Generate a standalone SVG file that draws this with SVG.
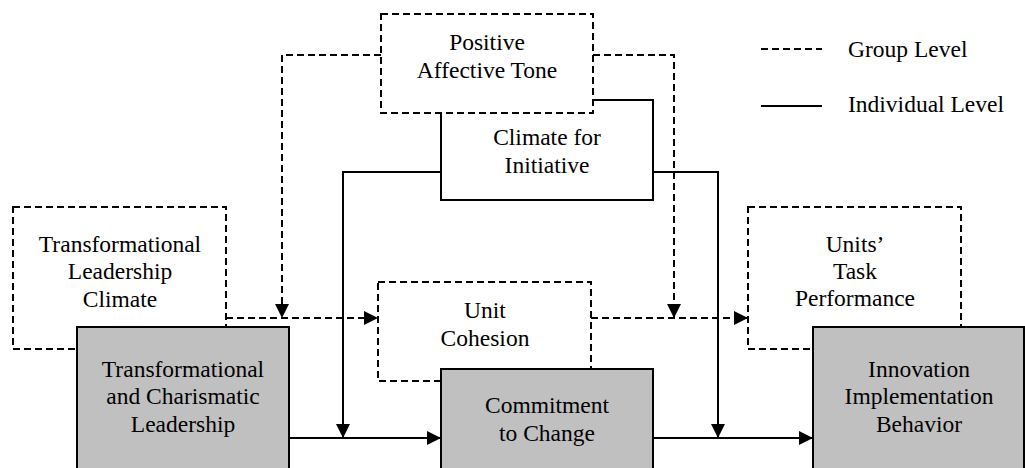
<svg xmlns="http://www.w3.org/2000/svg" width="1025" height="468" viewBox="0 0 1025 468">
  <style>
    text { font-family: 'Liberation Serif', serif; font-size: 23.5px; fill: #000; }
    .lbl { text-anchor: middle; }
    .group { fill: #fff; stroke: #000; stroke-width: 2; stroke-dasharray: 7 4; }
    .indiv { fill: #fff; stroke: #000; stroke-width: 2; }
    .core { fill: #c0c0c0; stroke: #000; stroke-width: 2; }
    .dash { fill: none; stroke: #000; stroke-width: 2; stroke-dasharray: 7 4; }
    .solid { fill: none; stroke: #000; stroke-width: 2; }
  </style>
  <defs>
    <marker id="arrow" markerUnits="userSpaceOnUse" markerWidth="15" markerHeight="15" refX="14" refY="7" orient="auto">
      <path d="M0,0 L14,7 L0,14 Z" fill="#000"/>
    </marker>
  </defs>

  <rect width="1025" height="468" fill="#fff"/>

  <!-- legend -->
  <g id="legend">
    <line x1="761" y1="49" x2="822" y2="49" class="dash"/>
    <text x="848" y="57" font-family="Liberation Serif, serif">Group Level</text>
    <line x1="761" y1="106" x2="822" y2="106" class="solid"/>
    <text x="848" y="112" font-family="Liberation Serif, serif">Individual Level</text>
  </g>

  <!-- moderators above the main chain -->
  <g id="climate-initiative">
    <rect x="441" y="100" width="212" height="100" class="indiv"/>
    <text x="547" y="145" class="lbl">Climate for</text>
    <text x="547" y="173" class="lbl">Initiative</text>
  </g>
  <g id="positive-tone">
    <rect x="381" y="14" width="212" height="99" class="group"/>
    <text x="487" y="50" class="lbl">Positive</text>
    <text x="487" y="78" class="lbl">Affective Tone</text>
  </g>
  <g id="tl-climate">
    <rect x="13" y="207" width="213" height="142" class="group"/>
    <text x="120" y="252" class="lbl">Transformational</text>
    <text x="120" y="279" class="lbl">Leadership</text>
    <text x="120" y="307" class="lbl">Climate</text>
  </g>
  <g id="unit-cohesion">
    <rect x="378" y="282" width="213" height="99" class="group"/>
    <text x="485" y="318" class="lbl">Unit</text>
    <text x="485" y="346" class="lbl">Cohesion</text>
  </g>
  <g id="task-performance">
    <rect x="748" y="207" width="213" height="142" class="group"/>
    <text x="855" y="252" class="lbl">Units’</text>
    <text x="855" y="279" class="lbl">Task</text>
    <text x="855" y="306" class="lbl">Performance</text>
  </g>

  <!-- connectors -->
  <g id="connectors">
    <path d="M381,55 H282 V318" class="dash" marker-end="url(#arrow)"/>
    <path d="M226,318 H378" class="dash" marker-end="url(#arrow)"/>
    <path d="M593,55 H674 V318" class="dash" marker-end="url(#arrow)"/>
    <path d="M591,318 H748" class="dash" marker-end="url(#arrow)"/>
    <path d="M441,172 H343 V438" class="solid" marker-end="url(#arrow)"/>
    <path d="M653,172 H718 V438" class="solid" marker-end="url(#arrow)"/>
    <path d="M289,438 H441" class="solid" marker-end="url(#arrow)"/>
    <path d="M653,438 H813" class="solid" marker-end="url(#arrow)"/>
  </g>

  <!-- main chain: leadership, commitment, implementation -->
  <g id="tc-leadership">
    <rect x="77" y="327" width="212" height="150" class="core"/>
    <text x="183" y="377" class="lbl">Transformational</text>
    <text x="183" y="404" class="lbl">and Charismatic</text>
    <text x="183" y="432" class="lbl">Leadership</text>
  </g>
  <g id="commitment">
    <rect x="441" y="369" width="212" height="108" class="core"/>
    <text x="547" y="413" class="lbl">Commitment</text>
    <text x="547" y="441" class="lbl">to Change</text>
  </g>
  <g id="innovation">
    <rect x="813" y="327" width="211" height="150" class="core"/>
    <text x="919" y="377" class="lbl">Innovation</text>
    <text x="919" y="404" class="lbl">Implementation</text>
    <text x="919" y="432" class="lbl">Behavior</text>
  </g>
</svg>
